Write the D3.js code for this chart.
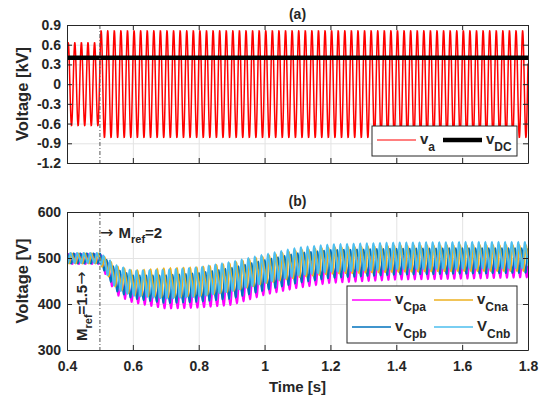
<!DOCTYPE html>
<html>
<head>
<meta charset="utf-8">
<script src="https://cdn.jsdelivr.net/npm/d3@7"></script>
<style>
  body { margin: 0; background: #fff; }
  text { font-family: "Liberation Sans", Arial, sans-serif; fill: #262626; }
</style>
</head>
<body>
<svg id="chart" width="543" height="401"></svg>
<script>
// ---- data -------------------------------------------------------------
const timeTicks = [0.4, 0.6, 0.8, 1.0, 1.2, 1.4, 1.6, 1.8];
const kvTicks   = [-1.2, -0.9, -0.6, -0.3, 0, 0.3, 0.6, 0.9];
const vTicks    = [300, 400, 500, 600];
const stepTime  = 0.5;            // modulation index change M_ref 1.5 -> 2
const gridHz    = 50;             // fundamental frequency

// phase voltage va: amplitude (kV) before / after the step
const vaStart = [0.4, 0.5];
const vaAmp   = [0.63, 0.81];
const vDC     = 0.4;              // kV

// capacitor voltage envelopes (V): min / max of ripple at given times
const envTimes = [0.4, 0.5, 0.55, 0.6, 0.7, 0.8, 0.9, 1.0, 1.1, 1.2, 1.4, 1.6, 1.8];
const vCpaMin = [487, 487, 420, 403, 390, 392, 398, 420, 435, 446, 453, 455, 458];
const vCpaMax = [509, 509, 468, 452, 440, 440, 448, 470, 485, 496, 503, 505, 508];
const vCpbMin = [488, 488, 428, 412, 402, 405, 412, 430, 446, 457, 464, 466, 468];
const vCpbMax = [510, 510, 475, 462, 462, 467, 478, 495, 510, 517, 520, 521, 521];
const vCnaMin = [488, 488, 435, 420, 415, 418, 428, 445, 458, 466, 470, 472, 472];
const vCnaMax = [510, 510, 482, 472, 477, 479, 488, 503, 516, 522, 526, 527, 527];
const vCnbMin = [489, 489, 432, 418, 412, 416, 428, 446, 462, 470, 476, 477, 478];
const vCnbMax = [511, 511, 484, 472, 474, 479, 491, 507, 522, 529, 533, 534, 534];

// ---- layout -----------------------------------------------------------
const svg = d3.select("#chart");
const L = 67, R = 528;
const A = { top: 25, bottom: 163 };
const B = { top: 212, bottom: 350 };

const x  = d3.scaleLinear().domain([0.4, 1.8]).range([L, R]);
const yA = d3.scaleLinear().domain([-1.2, 0.9]).range([A.bottom, A.top]);
const yB = d3.scaleLinear().domain([300, 600]).range([B.bottom, B.top]);

const fmtT = d => String(+d.toFixed(1));
const fmtKV = d => d === 0 ? "0" : d.toFixed(1);

function panel(id, p, y, yTickVals, yFmt, withXLabels) {
  const g = svg.append("g");
  const w = R - L, h = p.bottom - p.top;

  // grid
  g.append("g").attr("transform", `translate(${L},0)`)
    .call(d3.axisLeft(y).tickValues(yTickVals).tickSize(-w).tickFormat(""))
    .call(s => s.select(".domain").remove())
    .selectAll("line").attr("stroke", "#e3e3e3");
  g.append("g").attr("transform", `translate(0,${p.bottom})`)
    .call(d3.axisBottom(x).tickValues(timeTicks).tickSize(-h).tickFormat(""))
    .call(s => s.select(".domain").remove())
    .selectAll("line").attr("stroke", "#e3e3e3");

  svg.append("clipPath").attr("id", id)
    .append("rect").attr("x", L).attr("y", p.top).attr("width", w).attr("height", h);

  const plot = svg.append("g").attr("clip-path", `url(#${id})`);
  return { g, plot, y, p, yTickVals, yFmt, withXLabels };
}

function frame(pn) {
  const { p, y, yTickVals, yFmt, withXLabels } = pn;
  const g = svg.append("g");
  const style = s => {
    s.selectAll(".domain").attr("stroke", "#262626").attr("stroke-width", 1);
    s.selectAll(".tick line").attr("stroke", "#262626");
    s.selectAll(".tick text").attr("font-size", 14).attr("font-weight", "bold")
      .attr("fill", "#262626").attr("font-family", '"Liberation Sans", Arial, sans-serif');
  };
  g.append("g").attr("transform", `translate(${L},0)`)
    .call(d3.axisLeft(y).tickValues(yTickVals).tickFormat(yFmt).tickSize(-5).tickSizeOuter(0).tickPadding(6))
    .call(style);
  g.append("g").attr("transform", `translate(${R},0)`)
    .call(d3.axisRight(y).tickValues(yTickVals).tickFormat("").tickSize(-5).tickSizeOuter(0))
    .call(style);
  g.append("g").attr("transform", `translate(0,${p.top})`)
    .call(d3.axisTop(x).tickValues(timeTicks).tickFormat("").tickSize(-5).tickSizeOuter(0))
    .call(style);
  g.append("g").attr("transform", `translate(0,${p.bottom})`)
    .call(d3.axisBottom(x).tickValues(timeTicks).tickFormat(withXLabels ? fmtT : "").tickSize(-5).tickSizeOuter(0).tickPadding(11))
    .call(style);
}

// ---- panel (a) --------------------------------------------------------
const pa = panel("clipA", A, yA, kvTicks, fmtKV, false);
const ampAt = t => vaAmp[d3.bisectRight(vaStart, t) - 1];
const perCycle = 40;
const tSamples = d3.range(0.4, 1.8 + 1e-9, 1 / (gridHz * perCycle));
const vaPts = tSamples.map(t => [t, ampAt(t) * Math.sin(2 * Math.PI * gridHz * t + 0.4)]);
pa.plot.append("path").datum(vaPts)
  .attr("fill", "none").attr("stroke", "#ff0000").attr("stroke-width", 1.5)
  .attr("d", d3.line().x(d => x(d[0])).y(d => yA(d[1])));
pa.plot.append("line")
  .attr("x1", x(0.4)).attr("x2", x(1.8)).attr("y1", yA(vDC)).attr("y2", yA(vDC))
  .attr("stroke", "#000").attr("stroke-width", 4.5);

// ---- panel (b) --------------------------------------------------------
const pb = panel("clipB", B, yB, vTicks, d => String(d), true);
const ripple = th => (Math.sin(th) + 0.25 * Math.sin(2 * th)) / 1.101;
const capSeries = [
  { name: "Cpa", min: vCpaMin, max: vCpaMax, color: "#ff00ff", phase: 0.0 },
  { name: "Cpb", min: vCpbMin, max: vCpbMax, color: "#0072bd", phase: 1.1 },
  { name: "Cna", min: vCnaMin, max: vCnaMax, color: "#edb120", phase: 3.1 },
  { name: "Cnb", min: vCnbMin, max: vCnbMax, color: "#4dbeee", phase: 4.2 }
];
const lineB = d3.line().x(d => x(d[0])).y(d => yB(d[1]));
capSeries.forEach(s => {
  const lo = d3.scaleLinear().domain(envTimes).range(s.min);
  const hi = d3.scaleLinear().domain(envTimes).range(s.max);
  const pts = tSamples.map(t => {
    const mid = (lo(t) + hi(t)) / 2, half = (hi(t) - lo(t)) / 2;
    return [t, mid + half * ripple(2 * Math.PI * gridHz * t + s.phase)];
  });
  pb.plot.append("path").datum(pts)
    .attr("fill", "none").attr("stroke", s.color).attr("stroke-width", 1.8)
    .attr("d", lineB);
});

// step marker lines
[A, B].forEach(p => {
  svg.append("line")
    .attr("x1", x(stepTime)).attr("x2", x(stepTime))
    .attr("y1", p.top).attr("y2", p.bottom)
    .attr("stroke", "#555").attr("stroke-width", 1)
    .attr("stroke-dasharray", "4,2,1,2");
});

frame(pa);
frame(pb);

// ---- titles and labels -------------------------------------------------
const bold = sel => sel.attr("font-weight", "bold");
svg.append("text").attr("x", (L + R) / 2).attr("y", 19).attr("text-anchor", "middle")
  .attr("font-size", 14).call(bold).text("(a)");
svg.append("text").attr("x", (L + R) / 2).attr("y", 206).attr("text-anchor", "middle")
  .attr("font-size", 14).call(bold).text("(b)");

svg.append("text").attr("transform", `translate(28,${(A.top + A.bottom) / 2}) rotate(-90)`)
  .attr("text-anchor", "middle").attr("font-size", 16.5).call(bold).text("Voltage [kV]");
svg.append("text").attr("transform", `translate(28,${(B.top + B.bottom) / 2}) rotate(-90)`)
  .attr("text-anchor", "middle").attr("font-size", 16.5).call(bold).text("Voltage [V]");
svg.append("text").attr("x", (L + R) / 2).attr("y", 392).attr("text-anchor", "middle")
  .attr("font-size", 15).call(bold).text("Time [s]");

// annotations for the modulation index step
function arrow(t, txt) {
  t.append("tspan").attr("font-weight", "normal").attr("font-size", 16)
    .attr("font-family", '"DejaVu Sans", sans-serif').text(txt);
}
function subLabel(g, main, sub, tail, arrowFirst) {
  const t = g.append("text").attr("font-size", 15).call(bold);
  if (arrowFirst) arrow(t, "\u2192 ");
  t.append("tspan").text(main);
  t.append("tspan").attr("font-size", 11).attr("dy", 5).text(sub);
  t.append("tspan").attr("dy", -5).text(tail);
  if (!arrowFirst) arrow(t, "\u2192");
  return t;
}
subLabel(svg.append("g").attr("transform", "translate(100,238)"), "M", "ref", "=2", true);
subLabel(svg.append("g").attr("transform", "translate(87,341) rotate(-90)"), "M", "ref", "=1.5", false);

// ---- legends ------------------------------------------------------------
function legendEntry(g, x0, y0, color, width, main, sub) {
  g.append("line").attr("x1", x0).attr("x2", x0 + 39).attr("y1", y0).attr("y2", y0)
    .attr("stroke", color).attr("stroke-width", width);
  const t = g.append("text").attr("x", x0 + 43).attr("y", y0 + 4).attr("font-size", 15).call(bold);
  t.append("tspan").text(main);
  t.append("tspan").attr("font-size", 12).attr("dy", 7).text(sub);
}
const legA = svg.append("g");
legA.append("rect").attr("x", 372).attr("y", 126).attr("width", 145).attr("height", 30)
  .attr("fill", "#fff").attr("stroke", "#262626").attr("stroke-width", 1);
legendEntry(legA, 377, 140, "#ff0000", 1.2, "v", "a");
legendEntry(legA, 443, 140, "#000", 4.5, "v", "DC");

const legB = svg.append("g");
legB.append("rect").attr("x", 347).attr("y", 286).attr("width", 170).attr("height", 57)
  .attr("fill", "#fff").attr("stroke", "#262626").attr("stroke-width", 1);
legendEntry(legB, 352, 300, "#ff00ff", 1.5, "v", "Cpa");
legendEntry(legB, 434, 300, "#edb120", 1.5, "v", "Cna");
legendEntry(legB, 352, 327, "#0072bd", 1.5, "v", "Cpb");
legendEntry(legB, 434, 327, "#4dbeee", 1.5, "V", "Cnb");
</script>
</body>
</html>
